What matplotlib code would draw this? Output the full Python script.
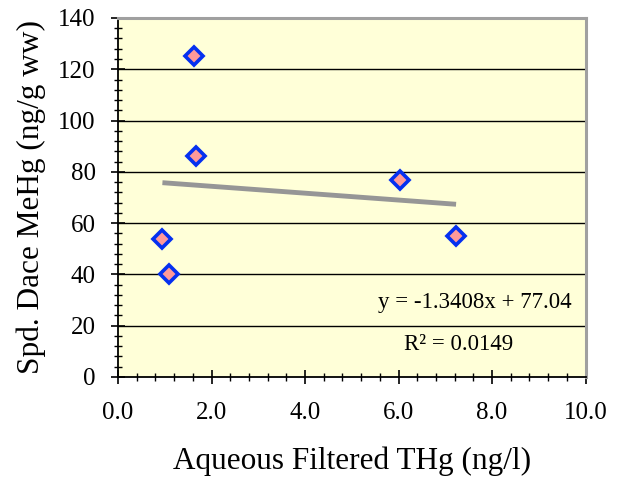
import matplotlib
matplotlib.use("Agg")
import matplotlib.pyplot as plt
import numpy as np
from matplotlib.ticker import MultipleLocator, FormatStrFormatter

# Aqueous filtered THg (ng/l) vs. spottail dace MeHg (ng/g ww)
thg = [1.63, 1.66, 0.95, 1.10, 6.04, 7.23]
mehg = [125, 86, 54, 40, 77, 55]

# Linear trend as reported
slope = -1.3408
intercept = 77.04
r_squared = 0.0149

plt.rcParams["font.family"] = ["Liberation Serif", "DejaVu Serif"]

fig = plt.figure(figsize=(6.21, 4.80), dpi=100)
ax = fig.add_axes([0.190, 0.2146, 0.753, 0.748])
ax.set_facecolor("#FFFFD8")

ax.set_xlim(0, 10)
ax.set_ylim(0, 140)

# horizontal gridlines
for yv in range(20, 140, 20):
    ax.axhline(yv, color="black", lw=1.0, zorder=1)

# trend line over the data range
xs = np.array([min(thg), max(thg)])
ax.plot(xs, slope * xs + intercept, color="#969696", lw=3.5, solid_capstyle="butt", zorder=2)

ax.plot(thg, mehg, linestyle="none", marker="D", markersize=9,
        markerfacecolor="#FF9999", markeredgecolor="#0530F0", markeredgewidth=2.6, zorder=3)

ax.text(7.64, 28.9, f"y = {slope}x + {intercept:.2f}", fontsize=16.5, ha="center", va="center")
ax.text(7.29, 12.5, f"R² = {r_squared}", fontsize=16.5, ha="center", va="center")

ax.xaxis.set_major_locator(MultipleLocator(2))
ax.xaxis.set_minor_locator(MultipleLocator(0.4))
ax.xaxis.set_major_formatter(FormatStrFormatter("%.1f"))
ax.yaxis.set_major_locator(MultipleLocator(20))
ax.yaxis.set_minor_locator(MultipleLocator(4))

ax.tick_params(which="major", direction="inout", length=10, width=1.2, labelsize=18, color="black")
ax.tick_params(which="minor", direction="inout", length=6, width=1.0, color="black")
ax.tick_params(axis="x", which="major", pad=13)
ax.tick_params(axis="y", which="major", pad=11)

for side in ("left", "bottom"):
    ax.spines[side].set_color("black")
    ax.spines[side].set_linewidth(1.3)
for side in ("top", "right"):
    ax.spines[side].set_color("#A0A0A0")
    ax.spines[side].set_linewidth(2.2)

ax.set_xlabel("Aqueous Filtered THg (ng/l)", fontsize=22.5, labelpad=16)
ax.set_ylabel("Spd. Dace MeHg (ng/g ww)", fontsize=22.5, labelpad=9)

fig.savefig("out.png", dpi=100, facecolor="white")
